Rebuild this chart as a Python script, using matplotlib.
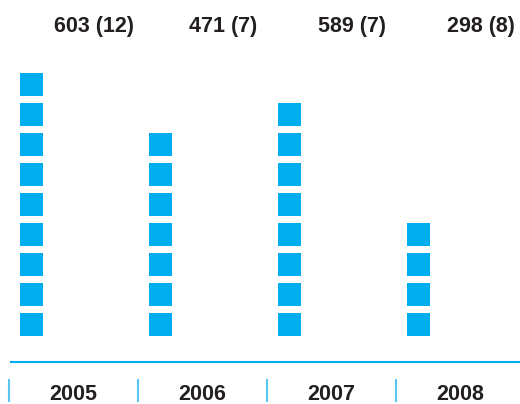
import matplotlib
matplotlib.use("Agg")
import matplotlib.pyplot as plt
from matplotlib.patches import Rectangle

years = ["2005", "2006", "2007", "2008"]
top_labels = ["603 (12)", "471 (7)", "589 (7)", "298 (8)"]
square_counts = [9, 7, 8, 4]

SQ_COLOR = "#00AEEF"
LINE_COLOR = "#00AEEF"
SEP_COLOR = "#5CC6F2"
TEXT_COLOR = "#231F20"

W, H = 520, 404
fig = plt.figure(figsize=(W / 100, H / 100), dpi=100)
ax = fig.add_axes([0, 0, 1, 1])
ax.axis("off")

# x: category units (px = 9 + 129*u); y: square units (px = 336 - 30*v)
ax.set_xlim(-9 / 129, (W - 9) / 129)
ax.set_ylim((336 - H) / 30, 336 / 30)

sq_w = 23 / 129
sq_h = 23 / 30
left_off = 0.085

for i, n in enumerate(square_counts):
    for k in range(n):
        ax.add_patch(Rectangle((i + left_off, k), sq_w, sq_h,
                               facecolor=SQ_COLOR, edgecolor="none"))

# baseline
base_v = (336 - 362) / 30
ax.plot([1 / 129, (W - 9) / 129], [base_v, base_v], color=LINE_COLOR, lw=1.5,
        solid_capstyle="butt")

# separators
sep_top = (336 - 379) / 30
sep_bot = (336 - 402) / 30
for i in range(len(years)):
    ax.plot([i, i], [sep_bot, sep_top], color=SEP_COLOR, lw=1.5, solid_capstyle="butt")

font = dict(family=["Liberation Sans", "DejaVu Sans"], weight="bold", size=15.5,
            color=TEXT_COLOR)
year_v = (336 - 400.5) / 30
top_v = (336 - 32) / 30
for i, (y, t) in enumerate(zip(years, top_labels)):
    ax.text(i + 0.5, year_v, y, ha="center", va="baseline", **font)
    ax.text(i + 0.66, top_v, t, ha="center", va="baseline", **font)

fig.savefig("out.png", dpi=100)
